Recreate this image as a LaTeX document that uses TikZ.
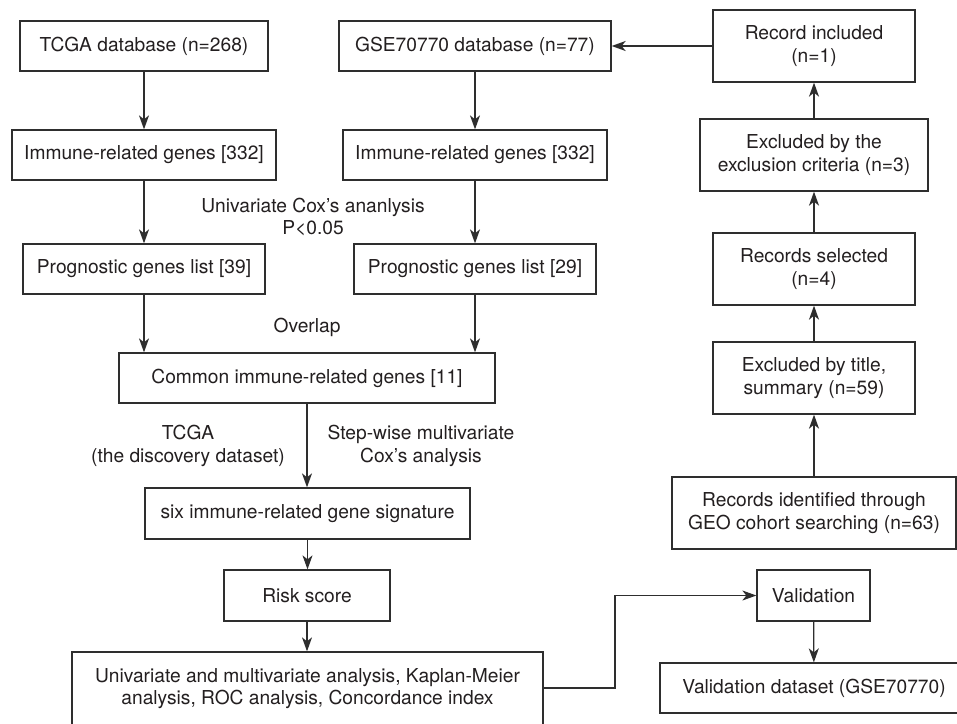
\documentclass[tikz,border=0pt]{standalone}
\usepackage{fontspec}
\setmainfont{TeX Gyre Heros}
\usetikzlibrary{arrows.meta}
\definecolor{ln}{HTML}{2E2E2E}
\definecolor{tx}{HTML}{231F20}
\begin{document}
\begin{tikzpicture}[x=0.5pt,y=-0.5pt,
  every node/.style={text=tx,font=\fontsize{9.6pt}{11.3pt}\selectfont},
  bx/.style={draw=ln,line width=0.65pt,inner sep=0pt,align=center},
  arr/.style={draw=ln,line width=0.65pt,-{Stealth[length=7pt,width=5pt,inset=2pt]}},
  lbl/.style={align=center,inner sep=0pt}]
\useasboundingbox[fill=white] (0,0) rectangle (957,723);
% left column
\node[bx,minimum width=124pt,minimum height=25pt] (tcga) at (144,46) {TCGA database (n=268)};
\node[bx,minimum width=132pt,minimum height=25pt] (imL) at (144,155) {Immune-related genes [332]};
\node[bx,minimum width=121pt,minimum height=25pt] (progL) at (144,269) {Prognostic genes list [39]};
% middle column
\node[bx,minimum width=136pt,minimum height=25pt] (gse) at (475,46) {GSE70770 database (n=77)};
\node[bx,minimum width=132pt,minimum height=25pt] (imR) at (475,155) {Immune-related genes [332]};
\node[bx,minimum width=121pt,minimum height=25pt] (progR) at (475,269) {Prognostic genes list [29]};
% central chain
\node[bx,minimum width=188pt,minimum height=25pt] (common) at (307,378) {Common immune-related genes [11]};
\node[bx,minimum width=162.5pt,minimum height=25.5pt] (six) at (307.5,513.5) {six immune-related gene signature};
\node[bx,minimum width=83pt,minimum height=25.5pt] (risk) at (307,595.5) {Risk score};
\node[bx,minimum width=235.5pt,minimum height=36.5pt] (uni) at (307.5,688.5) {Univariate and multivariate analysis, Kaplan-Meier\\analysis, ROC analysis, Concordance index};
% right column
\node[bx,minimum width=101pt,minimum height=36pt] (recinc) at (814,46) {Record included\\(n=1)};
\node[bx,minimum width=114pt,minimum height=36pt] (exc) at (814,155) {Excluded by the\\exclusion criteria (n=3)};
\node[bx,minimum width=101pt,minimum height=36pt] (recsel) at (814,269) {Records selected\\(n=4)};
\node[bx,minimum width=101pt,minimum height=36pt] (exctitle) at (814,378) {Excluded by title,\\summary (n=59)};
\node[bx,minimum width=142pt,minimum height=36pt] (recid) at (814,513) {Records identified through\\GEO cohort searching (n=63)};
\node[bx,minimum width=56.5pt,minimum height=25.5pt] (valid) at (813.5,595.5) {Validation};
\node[bx,minimum width=154pt,minimum height=25pt] (vds) at (814,688) {Validation dataset (GSE70770)};
% labels
\node[lbl] (l1) at (313,217) {Univariate Cox’s ananlysis\\P<0.05};
\node[lbl] (l2) at (307,327) {Overlap};
\node[lbl] (l3) at (188,446) {TCGA\\(the discovery dataset)};
\node[lbl] (l4) at (421,446) {Step-wise multivariate\\Cox’s analysis};
% arrows
\draw[arr] (tcga) -- (imL);
\draw[arr] (imL) -- (progL);
\draw[arr] (progL.south) -- (progL.south |- common.north);
\draw[arr] (gse) -- (imR);
\draw[arr] (imR) -- (progR);
\draw[arr] (progR.south) -- (progR.south |- common.north);
\draw[arr] (common.south) -- (common.south |- six.north);
\draw[arr] (six.south) -- (six.south |- risk.north);
\draw[arr] (risk.south) -- (risk.south |- uni.north);
\draw[arr] (recid) -- (exctitle);
\draw[arr] (exctitle) -- (recsel);
\draw[arr] (recsel) -- (exc);
\draw[arr] (exc) -- (recinc);
\draw[arr] (recinc) -- (gse);
\coordinate (elb) at (615,688);
\draw[arr] (uni.east |- elb) -- (elb) |- (valid.west);
\draw[arr] (valid) -- (vds);
\end{tikzpicture}
\end{document}
